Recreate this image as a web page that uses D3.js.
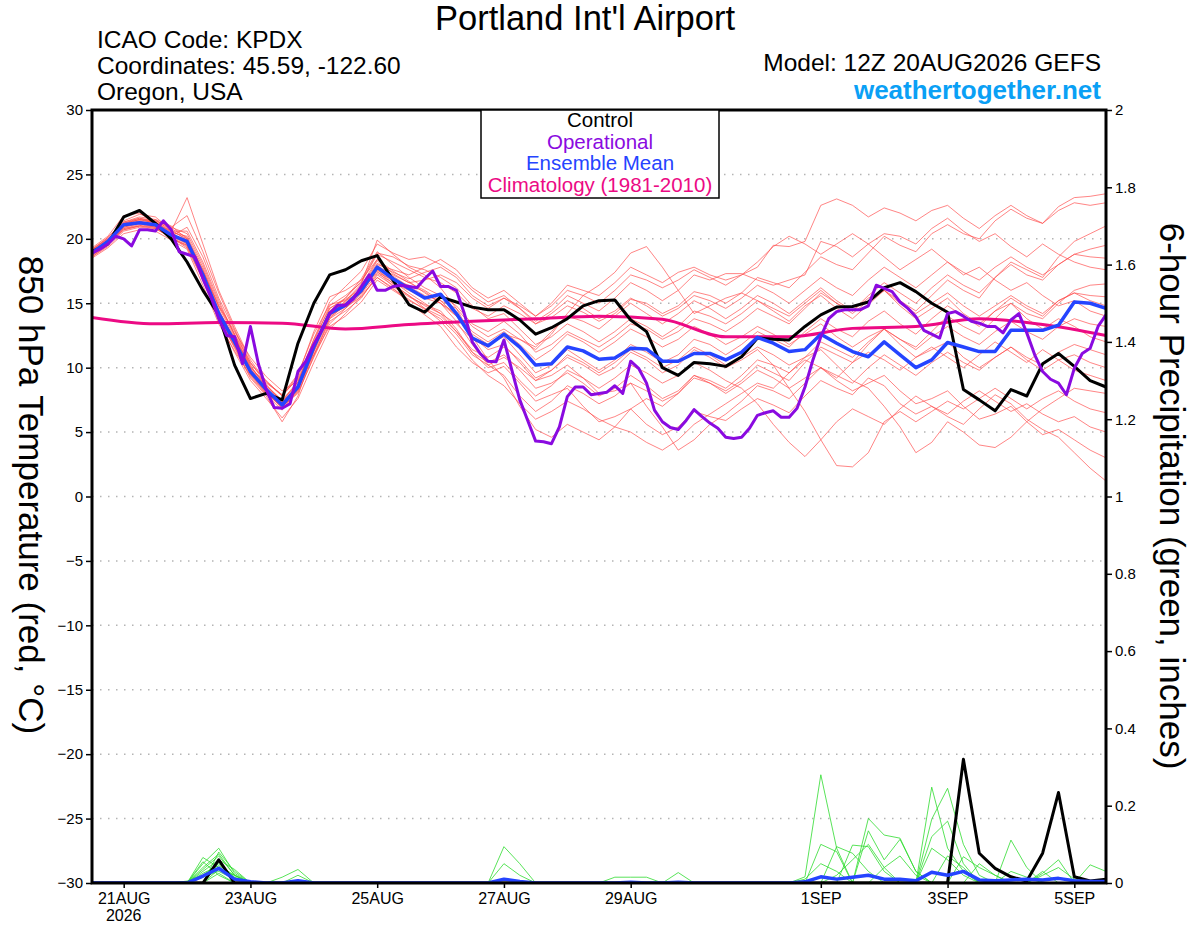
<!DOCTYPE html>
<html>
<head>
<meta charset="utf-8">
<script src="https://cdn.jsdelivr.net/npm/d3@7"></script>
<style>
  body { margin: 0; background: #fff; }
  svg { display: block; }
  text { font-family: "Liberation Sans", Arial, Helvetica, sans-serif; }
</style>
</head>
<body>
<svg id="chart" width="1200" height="927"></svg>
<script>
// run start 12Z 20AUG2026, members every 6h, operational every 3h, climatology daily
const runStart = Date.UTC(2026, 7, 20, 12);
const HOUR = 3600e3;

const dateTicks = ["2026-08-21", "2026-08-23", "2026-08-25", "2026-08-27", "2026-08-29", "2026-09-01", "2026-09-03", "2026-09-05"];
const dateLabels = ["21AUG", "23AUG", "25AUG", "27AUG", "29AUG", "1SEP", "3SEP", "5SEP"];
const tempTicks = [-30, -25, -20, -15, -10, -5, 0, 5, 10, 15, 20, 25, 30];
const precipTicks = [0, 0.2, 0.4, 0.6, 0.8, 1, 1.2, 1.4, 1.6, 1.8, 2];

const legendNames = ["Control", "Operational", "Ensemble Mean", "Climatology (1981-2010)"];

// 850 hPa temperature, control run (6-hourly)
const controlTemp = [
  19.0, 19.6, 21.7, 22.2, 21.2, 20.0, 18.2, 16.0, 14.1, 10.2, 7.6, 8.0, 7.5, 11.9, 15.0, 17.2, 17.6, 18.3, 18.7, 16.8, 14.9, 14.3,
  15.5, 15.1, 14.7, 14.5, 14.5, 13.7, 12.6, 13.1, 13.8, 14.8, 15.2, 15.25, 13.7, 12.8, 10.0, 9.4, 10.4, 10.3, 10.1, 10.85, 12.3,
  12.2, 12.15, 13.2, 14.1, 14.7, 14.75, 15.1, 16.2, 16.6, 15.9, 15.0, 14.3, 8.3, 7.5, 6.65, 8.3, 7.8, 10.3, 11.1, 10.1, 9.0, 8.5
];

// ensemble mean (6-hourly)
const meanTemp = [
  18.9, 19.8, 21.1, 21.25, 21.1, 20.3, 19.8, 17.2, 14.2, 12.0, 9.7, 8.3, 7.1, 8.5, 11.6, 14.2, 14.85, 16.0, 17.8, 16.9, 16.15, 15.4,
  15.7, 14.2, 12.3, 11.7, 12.6, 11.6, 10.2, 10.3, 11.6, 11.3, 10.65, 10.75, 11.5, 11.45, 10.5, 10.5, 11.1, 11.1, 10.6, 11.2, 12.35,
  11.9, 11.25, 11.4, 12.6, 11.9, 11.25, 10.85, 12.0, 11.0, 10.0, 10.6, 11.95, 11.6, 11.25, 11.25, 12.9, 12.9, 12.9, 13.3, 15.1, 15.0, 14.6
];

// operational run (3-hourly)
const operTemp = [
  18.9, 19.2, 19.6, 20.2, 20.0, 19.45, 20.7, 20.7, 20.6, 21.4, 20.7, 19.0, 18.8, 18.6, 16.9, 15.5, 13.8, 12.5, 12.4, 10.3, 13.2, 10.3,
  8.3, 6.9, 6.85, 7.2, 9.7, 10.5, 11.8, 12.9, 14.2, 14.85, 14.85, 15.35, 16.3, 17.2, 16.0, 16.0, 16.3, 16.4, 16.3, 16.2, 16.9,
  17.5, 16.3, 16.3, 16.0, 14.2, 12.0, 11.1, 10.5, 10.45, 12.15, 9.8, 7.5, 5.9, 4.3, 4.25, 4.1, 5.4, 7.75, 8.5, 8.5, 7.9, 8.0,
  8.1, 8.6, 8.0, 10.5, 9.95, 8.8, 6.7, 5.8, 5.35, 5.2, 5.9, 6.75, 6.2, 5.7, 5.3, 4.6, 4.5, 4.6, 5.3, 6.3, 6.5, 6.65, 6.15,
  6.15, 6.85, 8.5, 10.6, 12.4, 13.8, 14.35, 14.5, 14.5, 14.5, 14.8, 16.4, 16.15, 15.9, 15.1, 14.6, 13.95, 12.9, 12.6, 12.3,
  14.2, 14.35, 14.0, 13.6, 13.45, 13.2, 13.2, 12.7, 13.7, 14.2, 12.7, 11.0, 9.7, 9.1, 8.8, 7.9, 9.95, 11.1, 11.5, 13.2, 14.1
];

// 1981-2010 climatology (daily)
const climoTemp = [13.9, 13.4, 13.5, 13.45, 13.0, 13.35, 13.6, 13.8, 14.0, 13.75, 12.4, 12.4, 13.05, 13.2, 13.8, 13.35, 12.5];

// ensemble members (6-hourly)
const memberTemps = [
  [19.0, 19.9, 21.3, 21.6, 21.4, 20.9, 20.4, 18.0, 15.0, 12.6, 10.1, 8.6, 7.4, 8.9, 12.2, 15.1, 16.3, 17.5, 19.6, 18.9, 18.4, 18.6,
   18.0, 17.2, 16.0, 15.1, 15.6, 14.6, 13.4, 13.9, 14.8, 14.3, 13.6, 14.2, 15.3, 15.0, 14.2, 14.8, 15.9, 15.6, 15.0, 15.8, 17.0,
   16.6, 16.2, 17.4, 18.6, 18.0, 17.6, 18.9, 20.2, 19.5, 19.0, 20.4, 21.1, 20.4, 20.0, 21.4, 22.3, 21.6, 21.2, 22.5, 23.2, 23.3, 23.5],
  [18.6, 19.4, 20.6, 20.9, 20.8, 20.1, 19.5, 16.8, 13.6, 11.2, 9.0, 7.6, 6.1, 7.6, 10.4, 13.0, 14.2, 15.6, 17.0, 16.2, 15.0, 14.1,
   13.2, 11.6, 10.4, 9.6, 10.1, 8.8, 7.4, 7.9, 8.4, 7.0, 5.8, 6.2, 6.8, 5.6, 4.8, 5.4, 6.6, 6.2, 5.9, 6.8, 7.6,
   7.1, 6.5, 7.8, 9.0, 8.4, 7.9, 9.2, 8.6, 7.2, 6.4, 7.0, 6.2, 5.6, 6.8, 7.9, 7.2, 6.0, 5.2, 4.6, 3.4, 2.2, 1.2],
  [19.3, 20.2, 21.8, 22.0, 21.2, 20.6, 23.2, 19.6, 16.0, 13.2, 10.6, 8.9, 7.8, 9.4, 12.8, 15.5, 16.0, 16.8, 18.4, 17.3, 16.6, 16.0,
   15.2, 14.6, 13.2, 12.4, 13.0, 12.2, 11.4, 12.6, 14.2, 15.6, 16.4, 17.4, 18.9, 19.4, 17.8, 16.0, 14.2, 14.8, 15.4, 15.8, 15.2,
   14.4, 13.6, 14.8, 15.6, 14.6, 13.8, 14.9, 16.0, 15.2, 14.4, 15.6, 16.8, 16.0, 15.4, 17.0, 18.2, 17.6, 17.0, 18.6, 19.8, 20.4, 21.0],
  [18.8, 19.6, 20.8, 21.0, 21.5, 21.0, 20.0, 17.5, 14.8, 12.8, 10.8, 9.3, 8.2, 9.0, 11.0, 13.2, 14.0, 15.1, 16.8, 16.0, 15.2, 14.6,
   13.6, 12.2, 10.6, 9.4, 8.6, 7.2, 6.0, 6.6, 7.4, 6.8, 6.0, 5.4, 5.0, 4.2, 3.6, 4.4, 5.6, 6.4, 7.2, 8.0, 8.8,
   8.4, 9.6, 10.6, 10.0, 9.2, 10.4, 11.2, 10.6, 9.8, 10.8, 11.6, 10.8, 10.0, 11.0, 12.0, 11.2, 10.4, 11.4, 10.6, 9.8, 9.4, 9.0],
  [19.1, 20.1, 21.4, 21.9, 21.7, 20.7, 19.9, 17.0, 13.9, 11.5, 9.2, 7.8, 5.8, 7.8, 11.4, 14.6, 15.4, 16.9, 19.0, 18.0, 17.0, 16.2,
   15.6, 14.8, 13.4, 12.8, 13.6, 12.6, 11.2, 11.8, 12.8, 12.2, 11.6, 12.4, 13.4, 13.0, 12.2, 12.8, 13.8, 13.4, 12.8, 13.6, 14.6,
   14.0, 13.4, 14.6, 15.8, 15.0, 14.4, 15.6, 16.6, 15.8, 15.0, 16.2, 17.2, 16.4, 15.8, 17.0, 18.0, 17.2, 16.8, 18.0, 18.8, 19.2, 19.5],
  [18.5, 19.3, 20.4, 20.7, 20.6, 19.9, 19.2, 16.4, 13.4, 11.3, 9.4, 8.0, 7.0, 8.0, 10.9, 13.8, 15.0, 16.2, 18.1, 17.4, 16.9, 17.4,
   17.8, 17.0, 15.6, 14.8, 15.4, 14.6, 13.6, 14.4, 15.6, 15.0, 14.4, 15.4, 16.6, 16.0, 15.2, 16.0, 17.2, 16.8, 17.3, 17.3, 16.8,
   16.4, 16.8, 17.2, 19.8, 19.4, 18.6, 19.6, 20.4, 20.2, 19.6, 20.8, 21.6, 20.6, 19.8, 20.4, 19.4, 18.6, 19.6, 18.8, 18.2, 17.8, 17.6],
  [19.0, 19.8, 21.0, 21.4, 21.0, 20.2, 20.9, 18.6, 15.4, 12.9, 10.2, 8.4, 7.2, 8.4, 11.0, 13.6, 14.4, 15.4, 17.2, 16.4, 15.6, 14.8,
   14.2, 12.8, 11.4, 10.8, 11.6, 10.6, 9.2, 9.8, 10.8, 10.2, 9.4, 10.0, 11.2, 10.6, 9.6, 10.2, 11.4, 10.8, 10.0, 10.6, 11.4,
   10.2, 8.4, 6.6, 4.4, 2.4, 2.3, 3.4, 5.8, 6.6, 5.8, 6.6, 7.4, 6.8, 7.6, 8.4, 7.6, 6.8, 7.6, 8.2, 7.4, 6.8, 6.5],
  [18.7, 19.6, 20.9, 21.2, 21.0, 20.4, 19.6, 17.4, 14.4, 12.3, 10.0, 8.8, 7.9, 9.5, 12.6, 14.9, 15.2, 15.9, 17.4, 16.8, 16.4, 15.9,
   15.0, 14.0, 12.6, 11.8, 12.4, 11.0, 9.6, 10.2, 11.4, 10.6, 9.8, 10.6, 11.8, 11.2, 10.4, 11.0, 12.2, 11.8, 11.0, 11.8, 12.8,
   12.2, 11.6, 12.8, 13.8, 13.0, 12.4, 13.6, 14.4, 13.4, 12.6, 13.8, 14.8, 14.0, 13.2, 14.4, 15.4, 14.6, 14.0, 15.2, 15.8, 15.2, 14.8],
  [19.2, 20.0, 21.2, 21.5, 21.2, 20.5, 19.7, 17.1, 14.0, 11.8, 9.8, 8.2, 6.8, 8.2, 11.3, 14.2, 15.1, 16.4, 18.4, 17.5, 16.7, 15.8,
   15.0, 13.6, 11.8, 10.2, 9.4, 7.8, 6.6, 7.4, 8.6, 8.0, 7.2, 7.8, 8.8, 8.2, 7.4, 8.0, 9.2, 8.8, 8.2, 9.0, 10.2,
   9.6, 9.0, 10.4, 11.6, 11.0, 10.4, 11.8, 13.0, 12.2, 11.6, 12.8, 14.0, 13.2, 12.6, 13.8, 15.0, 14.2, 13.8, 15.0, 16.0, 16.4, 16.5],
  [18.9, 19.7, 20.7, 21.0, 20.8, 20.1, 19.4, 16.9, 14.1, 12.0, 9.5, 8.1, 7.3, 8.7, 11.8, 14.4, 15.0, 15.8, 17.6, 16.7, 15.8, 15.0,
   14.2, 13.4, 12.2, 11.6, 12.6, 12.2, 11.6, 12.8, 14.0, 13.6, 13.0, 14.0, 15.0, 14.2, 13.4, 14.2, 15.2, 14.6, 13.8, 14.6, 15.6,
   15.0, 14.2, 15.2, 16.2, 15.2, 14.4, 15.4, 16.0, 14.8, 13.8, 14.6, 15.4, 14.2, 13.4, 14.4, 15.0, 13.8, 13.0, 13.8, 13.2, 12.4, 12.0],
  [19.1, 20.0, 21.1, 21.4, 21.3, 20.6, 20.6, 18.2, 15.2, 12.5, 9.9, 8.3, 7.0, 8.1, 10.8, 13.4, 14.6, 15.9, 17.9, 17.2, 16.6, 16.8,
   17.2, 16.6, 15.4, 14.6, 15.4, 14.8, 14.0, 15.0, 16.4, 16.0, 15.6, 16.6, 17.8, 17.2, 16.6, 17.4, 17.8, 17.2, 16.8, 17.2, 17.8,
   19.5, 19.4, 19.8, 22.6, 23.1, 22.6, 21.7, 22.4, 22.0, 21.4, 22.2, 22.6, 21.6, 20.8, 21.8, 22.6, 21.8, 21.2, 22.2, 22.8, 22.6, 22.8],
  [18.8, 19.7, 21.0, 21.2, 20.9, 20.0, 19.5, 17.0, 13.8, 11.6, 9.3, 7.9, 6.7, 8.3, 11.5, 14.0, 14.8, 15.8, 17.6, 16.5, 15.6, 14.6,
   14.0, 12.8, 11.2, 10.4, 11.0, 9.8, 8.4, 8.8, 9.6, 8.8, 7.8, 8.4, 9.4, 8.6, 7.6, 8.2, 9.4, 8.8, 8.0, 8.8, 9.8,
   9.2, 8.4, 9.2, 10.0, 9.0, 8.2, 8.8, 9.4, 8.2, 7.2, 7.6, 8.2, 7.0, 6.0, 6.4, 7.0, 5.8, 4.8, 5.2, 4.4, 3.6, 3.0],
  [19.0, 19.9, 21.2, 21.5, 21.3, 20.8, 20.1, 17.6, 14.5, 12.1, 9.9, 8.5, 7.4, 8.8, 12.0, 14.8, 15.6, 16.6, 18.8, 18.2, 17.6, 17.0,
   16.6, 15.8, 14.6, 14.0, 14.8, 14.2, 13.4, 14.2, 15.2, 14.6, 13.8, 14.4, 15.4, 14.8, 14.0, 14.6, 15.6, 15.2, 14.6, 15.4, 16.4,
   15.8, 15.0, 16.0, 17.0, 16.2, 15.6, 16.8, 17.8, 17.0, 16.2, 17.2, 18.2, 17.4, 16.8, 17.8, 18.6, 17.8, 17.2, 18.0, 18.8, 18.6, 18.5],
  [18.6, 19.5, 20.7, 21.0, 20.9, 20.2, 19.6, 17.2, 14.3, 12.2, 10.3, 9.0, 7.8, 9.2, 12.2, 14.6, 15.3, 16.1, 17.5, 16.3, 15.5, 14.9,
   14.4, 13.0, 11.2, 10.0, 10.4, 9.0, 7.8, 8.6, 9.8, 9.2, 8.4, 9.2, 10.2, 9.6, 8.8, 9.4, 10.4, 9.8, 9.0, 8.4, 7.2,
   5.6, 4.2, 3.1, 4.4, 5.8, 6.8, 6.2, 5.6, 6.8, 7.8, 7.0, 6.4, 7.4, 8.2, 7.4, 6.6, 7.2, 6.4, 5.8, 6.2, 5.4, 5.0],
  [19.2, 20.1, 21.3, 21.7, 21.5, 20.6, 20.0, 17.3, 14.0, 11.7, 9.5, 8.0, 6.9, 8.5, 11.7, 14.4, 15.4, 16.7, 18.9, 18.6, 17.9, 17.6,
   17.0, 16.2, 14.8, 13.8, 14.2, 13.0, 11.8, 12.4, 13.4, 12.8, 12.0, 12.8, 13.8, 13.2, 12.4, 13.2, 14.4, 14.0, 13.4, 14.2, 15.2,
   14.6, 14.0, 15.0, 16.0, 15.0, 14.2, 15.2, 16.0, 15.0, 14.2, 15.0, 15.8, 14.8, 14.0, 14.8, 15.6, 14.8, 14.2, 15.2, 15.8, 15.6, 15.5],
  [18.9, 19.8, 21.0, 21.3, 21.1, 20.3, 19.9, 17.6, 14.7, 12.4, 10.0, 8.6, 7.5, 8.9, 11.9, 14.1, 14.7, 15.5, 17.0, 16.1, 15.3, 14.5,
   13.8, 12.6, 11.0, 10.2, 10.8, 10.0, 9.0, 9.8, 11.0, 10.4, 9.6, 10.4, 11.4, 10.8, 10.0, 10.6, 11.6, 11.0, 10.2, 10.8, 11.6,
   11.0, 10.2, 10.8, 11.4, 10.2, 9.0, 8.4, 7.0, 5.4, 3.4, 4.2, 5.8, 5.0, 4.0, 3.8, 4.6, 5.8, 6.8, 7.6, 8.4, 8.2, 8.0],
  [19.0, 19.8, 21.1, 21.5, 21.4, 20.9, 21.8, 19.0, 15.8, 13.0, 10.4, 8.9, 7.9, 9.1, 11.6, 13.9, 14.8, 16.0, 18.0, 17.6, 17.2, 17.8,
   18.4, 17.6, 16.2, 15.4, 16.0, 15.0, 14.0, 14.8, 16.0, 15.6, 15.0, 16.0, 17.2, 16.8, 16.2, 16.8, 17.6, 17.0, 16.4, 17.2, 18.2,
   19.4, 20.2, 19.6, 18.8, 19.6, 20.4, 19.6, 18.6, 17.6, 18.4, 19.2, 18.2, 17.2, 17.8, 16.8, 16.0, 16.6, 15.6, 14.8, 15.2, 14.4, 14.0],
  [18.7, 19.5, 20.8, 21.1, 20.9, 20.1, 19.3, 16.8, 13.9, 11.7, 9.6, 8.2, 7.1, 8.4, 11.2, 13.8, 14.6, 15.7, 17.3, 16.6, 16.0, 15.4,
   15.0, 14.2, 12.8, 12.0, 12.8, 11.8, 10.6, 11.4, 12.6, 12.0, 11.2, 12.0, 13.0, 12.4, 11.6, 12.2, 13.2, 12.6, 11.8, 12.4, 13.2,
   12.6, 11.8, 12.6, 13.4, 12.4, 11.6, 12.4, 13.0, 11.8, 10.8, 11.4, 12.0, 10.8, 10.0, 10.8, 11.6, 10.6, 9.8, 10.6, 11.0, 10.4, 10.0],
  [19.1, 19.9, 21.2, 21.6, 21.3, 20.5, 20.2, 17.8, 14.8, 12.6, 10.4, 8.7, 7.3, 8.6, 11.4, 14.0, 15.2, 16.5, 19.9, 18.8, 17.8, 17.2,
   16.2, 14.6, 12.4, 10.6, 9.2, 7.0, 5.2, 4.6, 5.6, 5.0, 4.4, 5.4, 6.8, 7.6, 7.0, 8.0, 9.4, 9.0, 8.4, 9.4, 10.6,
   10.2, 9.6, 10.8, 12.0, 11.4, 10.8, 12.0, 13.0, 12.2, 11.4, 12.4, 13.2, 12.4, 11.8, 12.8, 13.6, 12.8, 12.2, 13.2, 13.8, 13.4, 13.2],
  [18.8, 19.6, 20.9, 21.2, 21.0, 20.2, 19.7, 17.3, 14.4, 12.0, 9.7, 8.1, 6.9, 8.3, 11.3, 14.3, 15.0, 16.2, 18.3, 17.1, 16.3, 15.6,
   15.2, 14.0, 12.4, 11.4, 11.8, 10.4, 9.0, 9.4, 10.2, 9.2, 8.0, 8.2, 8.8, 7.0, 5.4, 3.6, 4.4, 5.6, 6.4, 7.4, 8.6,
   8.2, 7.6, 8.8, 10.0, 9.4, 8.8, 10.0, 11.0, 10.2, 9.4, 10.4, 11.2, 10.4, 9.8, 10.8, 11.6, 10.8, 10.2, 11.2, 11.8, 11.4, 11.0]
];

// 6-hour precipitation, [6h step, inches]; unlisted steps are 0
const controlPrecip = [[8, 0.06], [55, 0.32], [56, 0.077], [57, 0.038], [58, 0.016], [59, 0.005], [60, 0.077], [61, 0.234], [62, 0.016], [63, 0.005], [64, 0.01]];
const meanPrecip = [[7, 0.018], [8, 0.038], [9, 0.01], [10, 0.003], [13, 0.006], [26, 0.01], [27, 0.004], [34, 0.002], [37, 0.002],
  [45, 0.003], [46, 0.016], [47, 0.01], [48, 0.015], [49, 0.02], [50, 0.01], [51, 0.01], [52, 0.006], [53, 0.028], [54, 0.02], [55, 0.03],
  [56, 0.008], [57, 0.006], [58, 0.008], [59, 0.01], [60, 0.008], [61, 0.012], [62, 0.006], [63, 0.004], [64, 0.004]];
const memberPrecip = [
  [[7, 0.066], [8, 0.04], [9, 0.01], [45, 0.016], [46, 0.28], [47, 0.09], [53, 0.248], [54, 0.09], [55, 0.03]],
  [[7, 0.05], [8, 0.09], [9, 0.025], [26, 0.094], [27, 0.05], [47, 0.094], [48, 0.077], [49, 0.03], [58, 0.111], [59, 0.04]],
  [[7, 0.04], [8, 0.075], [9, 0.02], [12, 0.015], [13, 0.035], [49, 0.167], [50, 0.124], [51, 0.116], [52, 0.03], [60, 0.03]],
  [[7, 0.03], [8, 0.06], [9, 0.035], [26, 0.05], [27, 0.02], [53, 0.165], [54, 0.245], [55, 0.1], [56, 0.02]],
  [[6, 0.005], [7, 0.02], [8, 0.05], [9, 0.015], [33, 0.015], [34, 0.015], [35, 0.015], [48, 0.098], [49, 0.094], [50, 0.03], [55, 0.068], [56, 0.04], [57, 0.02]],
  [[7, 0.035], [8, 0.07], [9, 0.02], [37, 0.027], [49, 0.135], [50, 0.06], [51, 0.113], [52, 0.03], [63, 0.047], [64, 0.03]],
  [[7, 0.025], [8, 0.045], [9, 0.02], [46, 0.1], [47, 0.081], [53, 0.09], [54, 0.06], [55, 0.02]],
  [[8, 0.035], [9, 0.02], [13, 0.02], [50, 0.04], [51, 0.07], [52, 0.02], [60, 0.02], [61, 0.04], [62, 0.01]],
  [[7, 0.055], [8, 0.02], [53, 0.12], [54, 0.16], [55, 0.05]],
  [[8, 0.08], [9, 0.03], [47, 0.02], [48, 0.06], [49, 0.1], [50, 0.04], [56, 0.05], [57, 0.02]],
  [[7, 0.015], [8, 0.03], [9, 0.01], [54, 0.07], [55, 0.04], [60, 0.025], [61, 0.06]],
  [[8, 0.025], [45, 0.01], [46, 0.05], [47, 0.03], [58, 0.03], [59, 0.015]]
];
const nSteps = 65;

function expand(pairs) {
  const out = new Array(nSteps).fill(0);
  pairs.forEach(([i, v]) => { out[i] = v; });
  return out;
}

const width = 1200, height = 927;
const margin = {top: 110, right: 94, bottom: 44, left: 92};
const innerW = width - margin.left - margin.right;
const innerH = height - margin.top - margin.bottom;

const svg = d3.select("#chart");

const x = d3.scaleUtc()
  .domain([new Date(runStart), new Date(runStart + 384 * HOUR)])
  .range([0, innerW]);
const yT = d3.scaleLinear().domain([-30, 30]).range([innerH, 0]);
const yP = d3.scaleLinear().domain([0, 2]).range([innerH, 0]);

const g = svg.append("g").attr("transform", `translate(${margin.left},${margin.top})`);

g.append("clipPath").attr("id", "plotclip")
  .append("rect").attr("width", innerW).attr("height", innerH);

// dotted grid at temperature ticks
g.append("g")
  .selectAll("line")
  .data(tempTicks.filter(t => t > -30 && t < 30))
  .join("line")
    .attr("x1", 0).attr("x2", innerW)
    .attr("y1", d => yT(d)).attr("y2", d => yT(d))
    .attr("stroke", "#b4b4b4")
    .attr("stroke-width", 1.5)
    .attr("stroke-dasharray", "1.5,6.5");

const plot = g.append("g").attr("clip-path", "url(#plotclip)");

const line = (step, scale) => d3.line()
  .x((d, i) => x(new Date(runStart + i * step * HOUR)))
  .y(d => scale(d));

// ensemble member temps
plot.append("g")
  .selectAll("path")
  .data(memberTemps)
  .join("path")
    .attr("d", line(6, yT))
    .attr("fill", "none")
    .attr("stroke", "#ff4a4a")
    .attr("stroke-opacity", 0.85)
    .attr("stroke-width", 0.8);

// ensemble member precip
plot.append("g")
  .selectAll("path")
  .data(memberPrecip.map(expand))
  .join("path")
    .attr("d", line(6, yP))
    .attr("fill", "none")
    .attr("stroke", "#2fdc2f")
    .attr("stroke-width", 0.8);

// climatology
plot.append("path")
  .datum(climoTemp)
  .attr("d", line(24, yT).curve(d3.curveMonotoneX))
  .attr("fill", "none")
  .attr("stroke", "#ec0a84")
  .attr("stroke-width", 3);

// control
[[controlTemp, yT], [expand(controlPrecip), yP]].forEach(([data, sc]) => {
  plot.append("path")
    .datum(data)
    .attr("d", line(6, sc))
    .attr("fill", "none")
    .attr("stroke", "#000")
    .attr("stroke-width", 3)
    .attr("stroke-linejoin", "round");
});

// ensemble mean
[[meanTemp, yT], [expand(meanPrecip), yP]].forEach(([data, sc]) => {
  plot.append("path")
    .datum(data)
    .attr("d", line(6, sc))
    .attr("fill", "none")
    .attr("stroke", "#2544ff")
    .attr("stroke-width", 3.5)
    .attr("stroke-linejoin", "round");
});

// operational
plot.append("path")
  .datum(operTemp)
  .attr("d", line(3, yT))
  .attr("fill", "none")
  .attr("stroke", "#8a0ae0")
  .attr("stroke-width", 3)
  .attr("stroke-linejoin", "round");

// frame
g.append("rect")
  .attr("width", innerW).attr("height", innerH)
  .attr("fill", "none").attr("stroke", "#000").attr("stroke-width", 3);

// left axis
const leftAxis = g.append("g")
  .call(d3.axisLeft(yT).tickValues(tempTicks).tickSize(6).tickPadding(3));
leftAxis.select(".domain").remove();
leftAxis.selectAll("line").attr("stroke-width", 1.5);
leftAxis.selectAll("text").attr("font-size", 15).attr("font-family", "Liberation Sans, Arial, sans-serif").attr("fill", "#000");

// right axis
const rightAxis = g.append("g")
  .attr("transform", `translate(${innerW},0)`)
  .call(d3.axisRight(yP).tickValues(precipTicks).tickFormat(d3.format("~g")).tickSize(6).tickPadding(3));
rightAxis.select(".domain").remove();
rightAxis.selectAll("line").attr("stroke-width", 1.5);
rightAxis.selectAll("text").attr("font-size", 15).attr("font-family", "Liberation Sans, Arial, sans-serif").attr("fill", "#000");

// bottom axis
const tickDates = dateTicks.map(d => new Date(d + "T00:00:00Z"));
const bottomAxis = g.append("g")
  .attr("transform", `translate(0,${innerH})`)
  .call(d3.axisBottom(x).tickValues(tickDates).tickFormat((d, i) => dateLabels[i]).tickSize(5).tickPadding(5));
bottomAxis.select(".domain").remove();
bottomAxis.selectAll("line").attr("stroke-width", 1.5);
bottomAxis.selectAll("text").attr("font-size", 16).attr("font-family", "Liberation Sans, Arial, sans-serif").attr("fill", "#000");
bottomAxis.append("text")
  .attr("x", x(tickDates[0])).attr("y", 38)
  .attr("text-anchor", "middle")
  .attr("font-size", 16)
  .attr("fill", "#000")
  .text("2026");

// titles
svg.append("text")
  .attr("x", 585).attr("y", 30)
  .attr("text-anchor", "middle")
  .attr("font-size", 34.5)
  .text("Portland Int'l Airport");

const infoLines = ["ICAO Code: KPDX", "Coordinates: 45.59, -122.60", "Oregon, USA"];
svg.append("g").selectAll("text")
  .data(infoLines)
  .join("text")
    .attr("x", 97).attr("y", (d, i) => 48 + i * 26)
    .attr("font-size", 24.5)
    .text(d => d);

svg.append("text")
  .attr("x", 1101).attr("y", 71)
  .attr("text-anchor", "end")
  .attr("font-size", 24.5)
  .text("Model: 12Z 20AUG2026 GEFS");

svg.append("text")
  .attr("x", 1101).attr("y", 99)
  .attr("text-anchor", "end")
  .attr("font-size", 26)
  .attr("font-weight", "bold")
  .attr("fill", "#0aa0f5")
  .text("weathertogether.net");

// axis titles, both read top to bottom
svg.append("text")
  .attr("transform", "translate(19,495) rotate(90)")
  .attr("text-anchor", "middle")
  .attr("font-size", 35)
  .text("850 hPa Temperature (red, \u00B0C)");

svg.append("text")
  .attr("transform", "translate(1160,496) rotate(90)")
  .attr("text-anchor", "middle")
  .attr("font-size", 35)
  .text("6-hour Precipitation (green, inches)");

// legend
const legendColors = ["#000", "#8a0ae0", "#2544ff", "#ec0a84"];
const legend = svg.append("g");
legend.append("rect")
  .attr("x", 481).attr("y", 110)
  .attr("width", 238).attr("height", 88)
  .attr("fill", "#fff")
  .attr("stroke", "#000")
  .attr("stroke-width", 1.5);
legend.selectAll("text")
  .data(legendNames)
  .join("text")
    .attr("x", 600).attr("y", (d, i) => 127 + i * 21.5)
    .attr("text-anchor", "middle")
    .attr("font-size", 20.5)
    .attr("fill", (d, i) => legendColors[i])
    .text(d => d);
</script>
</body>
</html>
